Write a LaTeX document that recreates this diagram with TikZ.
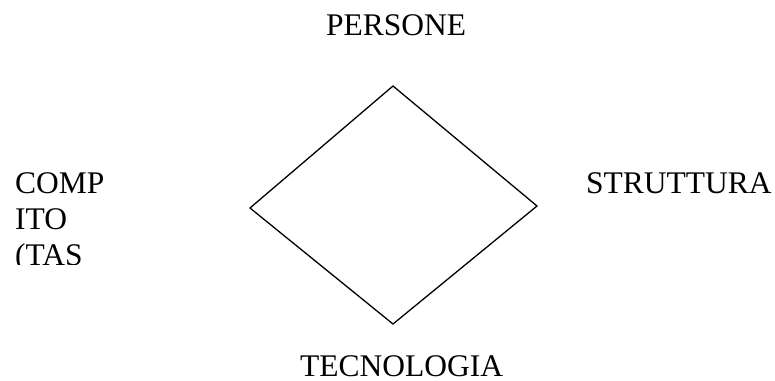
\documentclass[tikz,border=0pt]{standalone}
\usepackage{fontspec}
\setmainfont{Liberation Serif}
\usepackage{tikz}

\begin{document}
\begin{tikzpicture}[x=1pt,y=-1pt,font=\fontsize{31.5}{36}\selectfont,
    lbl/.style={anchor=base west,inner sep=0pt}]
  \useasboundingbox (0,0) rectangle (775,380);
  \coordinate (top) at (393,86);
  \coordinate (rgt) at (537,206);
  \coordinate (bot) at (393,324);
  \coordinate (lft) at (250,208);
  \draw[line width=1.3pt,line join=miter] (top)--(rgt)--(bot)--(lft)--cycle;

  \node[lbl] (persone) at (326,35) {PERSONE};
  \node[lbl] (struttura) at (586,193) {STRUTTURA};
  \node[lbl] (tecnologia) at (300,376) {TECNOLOGIA};
  % box of the task text is cut off below
  \begin{scope}
    \clip (0,150) rectangle (200,264);
    \node[lbl] (comp) at (15,193) {COMP};
    \node[lbl] (ito) at (15,229) {ITO};
    \node[lbl] (tas) at (15,265.5) {(TAS};
  \end{scope}
\end{tikzpicture}
\end{document}
